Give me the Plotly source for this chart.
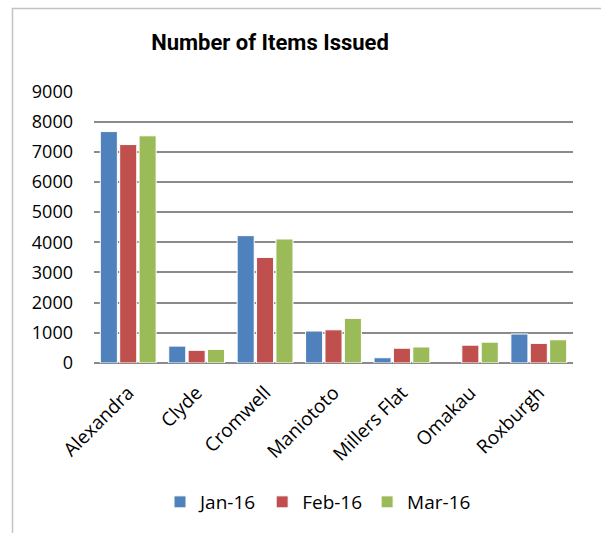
import plotly.graph_objects as go

categories = ["Alexandra", "Clyde", "Cromwell", "Maniototo", "Millers Flat", "Omakau", "Roxburgh"]
jan16 = [7670, 560, 4220, 1060, 175, None, 960]
feb16 = [7240, 420, 3500, 1100, 490, 590, 650]
mar16 = [7530, 450, 4110, 1480, 530, 690, 770]
series_names = ["Jan-16", "Feb-16", "Mar-16"]
colors = ["#4F81BD", "#C0504D", "#9BBB59"]
yticks = [0, 1000, 2000, 3000, 4000, 5000, 6000, 7000, 8000, 9000]

fig = go.Figure()
for name, vals, col in zip(series_names, [jan16, feb16, mar16], colors):
    fig.add_trace(go.Bar(x=categories, y=vals, name=name,
                         marker=dict(color=col, line=dict(color="#ffffff", width=1))))

W, H = 601, 533
L, R, T, B = 94, 28, 91, 170
pw, ph = W - L - R, H - T - B

def px_x(p):
    return (p - L) / pw

def px_y(p):
    return (H - B - p) / ph

fig.update_layout(
    width=W, height=H,
    margin=dict(l=L, r=R, t=T, b=B),
    paper_bgcolor="white", plot_bgcolor="white",
    barmode="group", bargap=0.15, bargroupgap=0.12,
    font=dict(family="Open Sans, sans-serif", size=18, color="#000000"),
    title=dict(text="<b>Number of Items Issued</b>", x=270 / W, xref="container", xanchor="center",
               y=1 - 42 / H, yref="container", yanchor="middle",
               font=dict(family="Roboto, sans-serif", size=22, color="#000000")),
    showlegend=True,
    legend=dict(orientation="h", x=px_x(160), xanchor="left", y=px_y(502), yanchor="middle",
                font=dict(size=19), bgcolor="rgba(0,0,0,0)", itemwidth=30),
    xaxis=dict(showgrid=False, showline=False, ticks="", tickangle=-45, ticklabelstandoff=14,
               tickfont=dict(size=19)),
    yaxis=dict(range=[0, 9015], tickvals=yticks, showgrid=True, gridcolor="#8a8a8a", gridwidth=1.5,
               zeroline=True, zerolinecolor="#8a8a8a", zerolinewidth=1.5, showline=False,
               ticks="", ticklabelstandoff=20, tickfont=dict(size=18)),
    shapes=[dict(type="rect", xref="paper", yref="paper",
                 x0=px_x(12.5), y0=px_y(8.5), x1=px_x(700), y1=px_y(700),
                 line=dict(color="#c6c2c2", width=1.5), fillcolor="rgba(0,0,0,0)", layer="below")],
)

fig.write_html("out.html")
